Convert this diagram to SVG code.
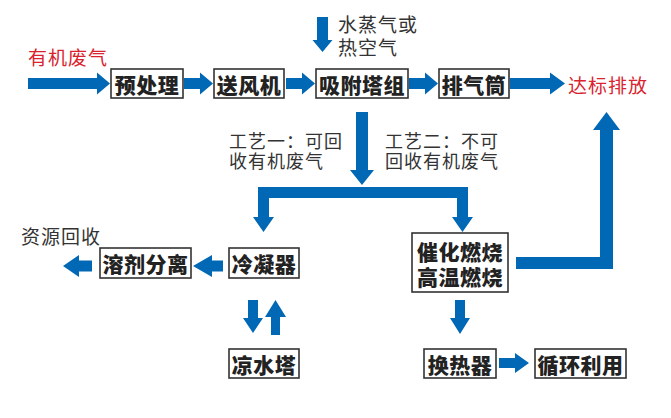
<svg xmlns="http://www.w3.org/2000/svg" width="671" height="418" viewBox="0 0 671 418">
<style>
.box{fill:#fff;stroke:#333;stroke-width:1.6}
.bt{font-family:"Noto Sans CJK SC","Noto Sans",sans-serif;font-size:21px;font-weight:900;fill:#222;text-anchor:middle;dominant-baseline:central;letter-spacing:0.5px}
.lb{font-family:"Noto Sans CJK SC","Noto Sans",sans-serif;font-size:18px;fill:#333;dominant-baseline:central;letter-spacing:1px}
.red{fill:#d9232e}
.ar{fill:#0068b5}
</style>
<rect width="671" height="418" fill="#fff"/>
<g id="connectors" class="ar">
<polygon points="28,78 97,78 97,72.5 110,83.5 97,94.5 97,89 28,89"/>
<polygon points="184,78 200,78 200,72.5 213,83.5 200,94.5 200,89 184,89"/>
<polygon points="286,78 302,78 302,72.5 315,83.5 302,94.5 302,89 286,89"/>
<polygon points="409,78 425,78 425,72.5 438,83.5 425,94.5 425,89 409,89"/>
<polygon points="510,78 550,78 550,72.5 565,83.5 550,94.5 550,89 510,89"/>
<polygon points="317,17 328,17 328,40 332.5,40 322.5,52 312.5,40 317,40"/>
<polygon points="356,112 368,112 368,170 374,170 362,185 350,170 356,170"/>
<polygon points="258,187 468,187 468,217 473,217 462.5,232 452,217 457,217 457,198 269,198 269,217 274,217 263.5,232 253,217 258,217"/>
<polygon points="223,260.5 212,260.5 212,255 193,266 212,277 212,271.5 223,271.5"/>
<polygon points="92,260.5 79,260.5 79,255 63,266 79,277 79,271.5 92,271.5"/>
<polygon points="248,300 258,300 258,318 263,318 253,333 243,318 248,318"/>
<polygon points="271,335 280,335 280,317 286,317 275.5,300 265,317 271,317"/>
<polygon points="455,300 465,300 465,318 470,318 460,334 450,318 455,318"/>
<polygon points="499,358 515,358 515,353 529,363 515,373 515,368 499,368"/>
<polygon points="516,257 600,257 600,130 593,130 606.5,112 620,130 613,130 613,269 516,269"/>
</g>
<g id="n-preprocess"><rect class="box" x="111" y="69" width="72" height="29"/><text class="bt" x="147" y="83.5">预处理</text></g>
<g id="n-fan"><rect class="box" x="214" y="69" width="70" height="29"/><text class="bt" x="249" y="83.5">送风机</text></g>
<g id="n-adsorb"><rect class="box" x="316" y="69" width="92" height="29"/><text class="bt" x="362" y="83.5">吸附塔组</text></g>
<g id="n-stack"><rect class="box" x="439" y="69" width="70" height="29"/><text class="bt" x="474" y="83.5">排气筒</text></g>
<g id="n-condenser"><rect class="box" x="229" y="248" width="70" height="30"/><text class="bt" x="264" y="263">冷凝器</text></g>
<g id="n-solvent"><rect class="box" x="100" y="248" width="91" height="30"/><text class="bt" x="145.5" y="263">溶剂分离</text></g>
<g id="n-cooling"><rect class="box" x="229" y="349" width="70" height="29"/><text class="bt" x="264" y="363.5">凉水塔</text></g>
<g id="n-combust"><rect class="box" x="412" y="233" width="96" height="59"/><text class="bt" x="460" y="251">催化燃烧<tspan x="460" dy="25">高温燃烧</tspan></text></g>
<g id="n-heatex"><rect class="box" x="424" y="349" width="72" height="29"/><text class="bt" x="460" y="363.5">换热器</text></g>
<g id="n-recycle"><rect class="box" x="535" y="349" width="91" height="29"/><text class="bt" x="580.5" y="363.5">循环利用</text></g>
<g id="labels">
<text class="lb red" x="28" y="56" style="font-size:19px">有机废气</text>
<text class="lb red" x="568" y="84" style="font-size:19px">达标排放</text>
<text class="lb" x="338" y="23" style="font-size:19px">水蒸气或<tspan x="338" dy="23">热空气</tspan></text>
<text class="lb" x="229" y="140">工艺一：可回<tspan x="229" dy="20">收有机废气</tspan></text>
<text class="lb" x="385" y="140">工艺二：不可<tspan x="385" dy="20">回收有机废气</tspan></text>
<text class="lb" x="21" y="235" style="font-size:19px">资源回收</text>
</g>
</svg>
